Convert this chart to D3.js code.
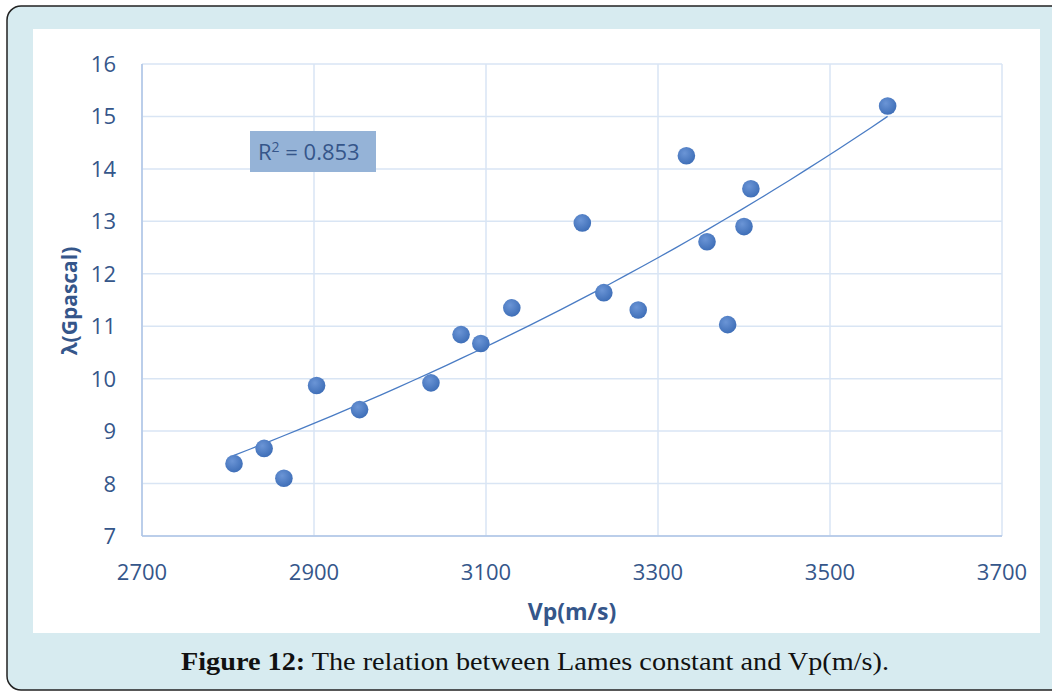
<!DOCTYPE html>
<html>
<head>
<meta charset="utf-8">
<script src="https://cdn.jsdelivr.net/npm/d3@7"></script>
<style>
  body { margin: 0; background: #fff; }
  svg { display: block; }
</style>
</head>
<body>
<div id="chart"></div>
<script>
// Vp (m/s) and lambda (Gpascal)
const vp     = [2807, 2842, 2865, 2903, 2953, 3036, 3071, 3094, 3130, 3212, 3237, 3277, 3333, 3357, 3381, 3400, 3408, 3567];
const lambda = [8.38, 8.67, 8.10, 9.87, 9.41, 9.92, 10.84, 10.67, 11.35, 12.97, 11.64, 11.31, 14.25, 12.61, 11.03, 12.90, 13.62, 15.20];
const xTicks = [2700, 2900, 3100, 3300, 3500, 3700];
const yTicks = [7, 8, 9, 10, 11, 12, 13, 14, 15, 16];
const r2Label = "0.853";

const width = 1052, height = 692;
const plot = {left: 142, right: 1002, top: 64, bottom: 536};

const svg = d3.select("#chart").append("svg")
  .attr("width", width)
  .attr("height", height);

// outer frame + white panel
svg.append("rect")
  .attr("x", 7).attr("y", 6)
  .attr("width", 1070).attr("height", 684)
  .attr("rx", 14)
  .attr("fill", "#d7ebf0")
  .attr("stroke", "#222").attr("stroke-width", 1.5);

svg.append("rect")
  .attr("x", 33).attr("y", 29)
  .attr("width", 1007).attr("height", 604)
  .attr("fill", "#fff");

const x = d3.scaleLinear().domain([2700, 3700]).range([plot.left, plot.right]);
const y = d3.scaleLinear().domain([7, 16]).range([plot.bottom, plot.top]);

// gridlines
svg.append("g").selectAll("line.h")
  .data(yTicks)
  .join("line")
  .attr("x1", plot.left).attr("x2", plot.right)
  .attr("y1", d => y(d)).attr("y2", d => y(d))
  .attr("stroke", "#d9e5f4").attr("stroke-width", 1.5);

svg.append("g").selectAll("line.v")
  .data(xTicks)
  .join("line")
  .attr("x1", d => x(d)).attr("x2", d => x(d))
  .attr("y1", plot.top).attr("y2", plot.bottom)
  .attr("stroke", "#d9e5f4").attr("stroke-width", 1.5);

// axis lines
svg.append("line")
  .attr("x1", plot.left).attr("x2", plot.left)
  .attr("y1", plot.top).attr("y2", plot.bottom)
  .attr("stroke", "#aec4e6").attr("stroke-width", 1.5);
svg.append("line")
  .attr("x1", plot.left).attr("x2", plot.right)
  .attr("y1", plot.bottom).attr("y2", plot.bottom)
  .attr("stroke", "#aec4e6").attr("stroke-width", 1.5);

const tickColor = "#35568a";
const font = "'Open Sans', 'Liberation Sans', sans-serif";

// tick labels
svg.append("g").selectAll("text")
  .data(yTicks)
  .join("text")
  .attr("x", 116).attr("y", d => y(d) + 8)
  .attr("text-anchor", "end")
  .attr("font-family", font).attr("font-size", 22)
  .attr("fill", tickColor)
  .text(d => d);

svg.append("g").selectAll("text")
  .data(xTicks)
  .join("text")
  .attr("x", d => x(d)).attr("y", 580)
  .attr("text-anchor", "middle")
  .attr("font-family", font).attr("font-size", 22)
  .attr("fill", tickColor)
  .text(d => d);

// axis titles
svg.append("text")
  .attr("x", 572).attr("y", 620)
  .attr("text-anchor", "middle")
  .attr("font-family", font).attr("font-size", 23).attr("font-weight", 700)
  .attr("fill", tickColor)
  .text("Vp(m/s)");

svg.append("text")
  .attr("transform", "translate(77,301) rotate(-90)")
  .attr("text-anchor", "middle")
  .attr("font-family", font).attr("font-size", 21).attr("font-weight", 700)
  .attr("fill", tickColor)
  .text("λ(Gpascal)");

// exponential trendline (least squares on ln y)
const lx = vp, ly = lambda.map(Math.log);
const mx = d3.mean(lx), my = d3.mean(ly);
const b = d3.sum(lx, (v, i) => (v - mx) * (ly[i] - my)) / d3.sum(lx, v => (v - mx) ** 2);
const a = Math.exp(my - b * mx);
const [x0, x1] = d3.extent(vp);
const trend = d3.range(0, 41).map(i => {
  const xv = x0 + (x1 - x0) * i / 40;
  return [xv, a * Math.exp(b * xv)];
});

svg.append("path")
  .datum(trend)
  .attr("fill", "none")
  .attr("stroke", "#4a7cc4").attr("stroke-width", 1.3)
  .attr("d", d3.line().x(d => x(d[0])).y(d => y(d[1])));

// points
const defs = svg.append("defs");
const grad = defs.append("radialGradient").attr("id", "dot")
  .attr("cx", "40%").attr("cy", "35%").attr("r", "65%");
grad.append("stop").attr("offset", "0%").attr("stop-color", "#6b95d6");
grad.append("stop").attr("offset", "100%").attr("stop-color", "#3f6fb8");

svg.append("g").selectAll("circle")
  .data(vp.map((v, i) => [v, lambda[i]]))
  .join("circle")
  .attr("cx", d => x(d[0])).attr("cy", d => y(d[1]))
  .attr("r", 8.8)
  .attr("fill", "url(#dot)");

// R² label
const r2 = svg.append("g").attr("transform", "translate(250,131)");
r2.append("rect")
  .attr("width", 126).attr("height", 41)
  .attr("fill", "#95b3d7");
const r2t = r2.append("text")
  .attr("x", 8).attr("y", 29)
  .attr("font-family", font).attr("font-size", 22)
  .attr("fill", "#35568a");
r2t.append("tspan").text("R");
r2t.append("tspan").attr("dy", -8).attr("font-size", 14).text("2");
r2t.append("tspan").attr("dy", 8).text(" = " + r2Label);

// caption
const cap = svg.append("text")
  .attr("x", 535).attr("y", 670)
  .attr("text-anchor", "middle")
  .attr("font-family", "'Liberation Serif', serif").attr("font-size", 26)
  .attr("textLength", 708).attr("lengthAdjust", "spacingAndGlyphs")
  .attr("fill", "#111");
cap.append("tspan").attr("font-weight", 700).text("Figure 12:");
cap.append("tspan").text(" The relation between Lames constant and Vp(m/s).");
</script>
</body>
</html>
